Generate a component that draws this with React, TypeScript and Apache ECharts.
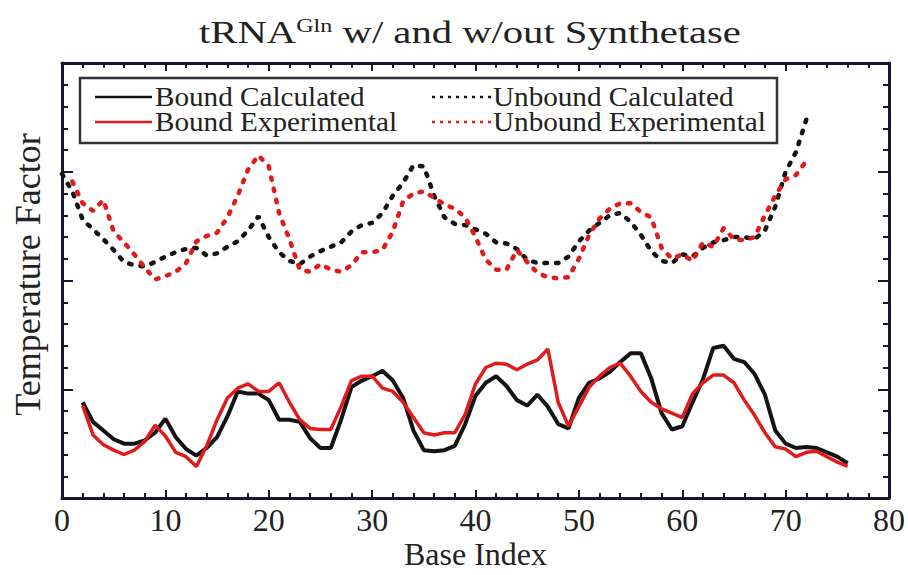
import React, { useEffect, useRef } from "react";
import * as echarts from "echarts";

// Bound series: base index 2..76
const BOUND_START = 2;
const boundCalculated = [
  0.88, 0.70, 0.62, 0.54, 0.50, 0.50, 0.53, 0.60, 0.73, 0.56, 0.45, 0.39, 0.46, 0.56, 0.75,
  0.98, 0.96, 0.96, 0.90, 0.72, 0.72, 0.70, 0.55, 0.46, 0.46, 0.72, 1.02, 1.08, 1.12, 1.17,
  1.08, 0.92, 0.62, 0.44, 0.43, 0.44, 0.48, 0.68, 0.94, 1.06, 1.12, 1.03, 0.90, 0.85, 0.95,
  0.84, 0.68, 0.64, 0.92, 1.06, 1.10, 1.16, 1.25, 1.33, 1.33, 1.10, 0.78, 0.63, 0.66, 0.88,
  1.09, 1.38, 1.40, 1.28, 1.25, 1.14, 0.95, 0.62, 0.50, 0.46, 0.47, 0.46, 0.42, 0.38, 0.32,
];
const boundExperimental = [
  0.85, 0.58, 0.49, 0.44, 0.40, 0.44, 0.52, 0.67, 0.57, 0.42, 0.38, 0.29, 0.48, 0.72, 0.92,
  1.01, 1.05, 0.98, 0.98, 1.06, 0.88, 0.72, 0.64, 0.63, 0.63, 0.84, 1.08, 1.12, 1.12, 1.01,
  0.98, 0.88, 0.74, 0.60, 0.58, 0.60, 0.60, 0.77, 1.05, 1.20, 1.24, 1.23, 1.18, 1.23, 1.27,
  1.37, 0.88, 0.66, 0.84, 1.02, 1.12, 1.20, 1.24, 1.12, 0.98, 0.88, 0.82, 0.78, 0.74, 0.96,
  1.06, 1.13, 1.13, 1.06, 0.90, 0.76, 0.60, 0.47, 0.45, 0.38, 0.42, 0.43, 0.38, 0.33, 0.29,
];

// Unbound series
const UNBOUND_CALC_START = 0;
const unboundCalculated = [
  2.98, 2.82, 2.56, 2.47, 2.38, 2.28, 2.17, 2.14, 2.13, 2.17, 2.22, 2.26, 2.29, 2.30, 2.23,
  2.25, 2.31, 2.36, 2.46, 2.59, 2.40, 2.26, 2.18, 2.15, 2.22, 2.27, 2.31, 2.35, 2.45, 2.51,
  2.53, 2.62, 2.78, 2.90, 3.06, 3.05, 2.78, 2.58, 2.52, 2.51, 2.47, 2.43, 2.35, 2.34, 2.29,
  2.19, 2.16, 2.16, 2.16, 2.22, 2.36, 2.46, 2.53, 2.60, 2.62, 2.54, 2.42, 2.27, 2.18, 2.16,
  2.24, 2.22, 2.30, 2.35, 2.37, 2.40, 2.40, 2.38, 2.46, 2.68, 3.00, 3.18, 3.48,
];
const UNBOUND_EXP_START = 1;
const unboundExperimental = [
  2.91, 2.71, 2.64, 2.74, 2.45, 2.35, 2.24, 2.12, 2.01, 2.04, 2.08, 2.16, 2.36, 2.41,
  2.44, 2.58, 2.78, 3.02, 3.15, 3.05, 2.62, 2.38, 2.10, 2.08, 2.15, 2.10, 2.08, 2.14, 2.26,
  2.26, 2.28, 2.45, 2.73, 2.80, 2.82, 2.76, 2.70, 2.66, 2.58, 2.40, 2.19, 2.10, 2.10, 2.28,
  2.17, 2.07, 2.03, 2.02, 2.03, 2.20, 2.42, 2.57, 2.66, 2.71, 2.71, 2.63, 2.58, 2.30, 2.20,
  2.24, 2.18, 2.35, 2.31, 2.48, 2.38, 2.37, 2.40, 2.60, 2.78, 2.93, 2.97, 3.10,
];

const seriesNames = [
  "Bound Calculated",
  "Bound Experimental",
  "Unbound Calculated",
  "Unbound Experimental",
];
const titleMain = "tRNA";
const titleSup = "Gln";
const titleRest = " w/ and w/out Synthetase";
const xAxisName = "Base Index";
const yAxisName = "Temperature Factor";
const xTickValues = [0, 10, 20, 30, 40, 50, 60, 70, 80];

const BLACK = "#141414";
const RED = "#e11b1b";
const AXIS = "#161633";
const TEXT = "#222";
const SERIF = "'Liberation Serif', 'Times New Roman', serif";

const toPairs = (start: number, arr: number[]) => arr.map((v, i) => [start + i, v]);

export default function App() {
  const ref = useRef<HTMLDivElement>(null);
  useEffect(() => {
    if (!ref.current) return;
    const chart = echarts.init(ref.current, undefined, { renderer: "svg" });

    const tickX = { show: true, inside: true, length: 8, lineStyle: { color: AXIS, width: 2 } };
    const minorX = { show: true, splitNumber: 5, length: 5, lineStyle: { color: AXIS, width: 2 } };
    const tickY = { show: true, inside: true, length: 11, lineStyle: { color: AXIS, width: 2 } };
    const minorY = { show: true, splitNumber: 5, length: 6, lineStyle: { color: AXIS, width: 2 } };
    const axisLine = { show: true, onZero: false, lineStyle: { color: AXIS, width: 3 } };

    const legendX1 = 95;
    const legendX2 = 432;
    const row1 = 97;
    const row2 = 122;
    const legendText = (x: number, y: number, text: string) => ({
      type: "text",
      x,
      y,
      scaleX: 1.08,
      z: 11,
      style: {
        text,
        fontFamily: SERIF,
        fontSize: 27,
        fill: TEXT,
        textAlign: "left",
        textVerticalAlign: "middle",
        verticalAlign: "middle",
      },
    });

    chart.setOption({
      animation: false,
      backgroundColor: "#ffffff",
      grid: { left: 62, top: 63, right: 19, bottom: 77, outerBoundsMode: "none", containLabel: false },
      xAxis: [
        {
          type: "value",
          min: 0,
          max: 80,
          interval: 10,
          position: "bottom",
          name: xAxisName,
          nameLocation: "middle",
          nameGap: 40,
          nameMoveOverlap: false,
          nameTextStyle: { fontFamily: SERIF, fontSize: 32, color: TEXT },
          axisLine,
          splitLine: { show: false },
          axisTick: tickX,
          minorTick: minorX,
          axisLabel: {
            show: true,
            fontFamily: SERIF,
            fontSize: 32,
            color: TEXT,
            margin: 6,
            customValues: xTickValues,
          },
        },
        {
          type: "value",
          min: 0,
          max: 80,
          interval: 10,
          position: "top",
          axisLine,
          splitLine: { show: false },
          axisTick: tickX,
          minorTick: minorX,
          axisLabel: { show: false },
        },
      ],
      yAxis: [
        {
          type: "value",
          min: 0,
          max: 4,
          interval: 1,
          position: "left",
          name: yAxisName,
          nameLocation: "middle",
          nameGap: 16,
          nameMoveOverlap: false,
          nameTextStyle: {
            fontFamily: SERIF,
            fontSize: 36,
            color: TEXT,
            padding: [0, 0, 0, 12],
          },
          axisLine,
          splitLine: { show: false },
          axisTick: tickY,
          minorTick: minorY,
          axisLabel: { show: false },
        },
        {
          type: "value",
          min: 0,
          max: 4,
          interval: 1,
          position: "right",
          axisLine,
          splitLine: { show: false },
          axisTick: tickY,
          minorTick: minorY,
          axisLabel: { show: false },
        },
      ],
      series: [
        {
          name: seriesNames[0],
          type: "line",
          data: toPairs(BOUND_START, boundCalculated),
          showSymbol: false,
          lineStyle: { color: BLACK, width: 4 },
          z: 3,
        },
        {
          name: seriesNames[1],
          type: "line",
          data: toPairs(BOUND_START, boundExperimental),
          showSymbol: false,
          lineStyle: { color: RED, width: 3.5 },
          z: 4,
        },
        {
          name: seriesNames[2],
          type: "line",
          data: toPairs(UNBOUND_CALC_START, unboundCalculated),
          showSymbol: false,
          lineStyle: { color: BLACK, width: 4.5, type: [2.5, 9], cap: "round" },
          z: 3,
        },
        {
          name: seriesNames[3],
          type: "line",
          data: toPairs(UNBOUND_EXP_START, unboundExperimental),
          showSymbol: false,
          lineStyle: { color: RED, width: 4.5, type: [2.5, 9], cap: "round" },
          z: 4,
        },
      ],
      graphic: [
        {
          type: "text",
          x: 470,
          y: 32,
          scaleX: 1.27,
          z: 11,
          style: {
            text: `${titleMain}{sup|${titleSup}}${titleRest}`,
            fontFamily: SERIF,
            fontSize: 32,
            fill: TEXT,
            textAlign: "center",
            verticalAlign: "middle",
            rich: {
              sup: {
                fontFamily: SERIF,
                fontSize: 19,
                fill: TEXT,
                verticalAlign: "top",
                padding: [0, 0, 10, 0],
              },
            },
          },
        },
        {
          type: "rect",
          shape: { x: 80, y: 78, width: 697, height: 65 },
          style: { fill: "#fff", stroke: "#333", lineWidth: 2.5 },
          z: 10,
        },
        {
          type: "line",
          shape: { x1: legendX1, y1: row1, x2: legendX1 + 57, y2: row1 },
          style: { stroke: BLACK, lineWidth: 2.5 },
          z: 11,
        },
        {
          type: "line",
          shape: { x1: legendX1, y1: row2, x2: legendX1 + 57, y2: row2 },
          style: { stroke: RED, lineWidth: 2.5 },
          z: 11,
        },
        {
          type: "line",
          shape: { x1: legendX2, y1: row1, x2: legendX2 + 59, y2: row1 },
          style: { stroke: BLACK, lineWidth: 2.5, lineDash: [3, 5] },
          z: 11,
        },
        {
          type: "line",
          shape: { x1: legendX2, y1: row2, x2: legendX2 + 59, y2: row2 },
          style: { stroke: RED, lineWidth: 2.5, lineDash: [3, 5] },
          z: 11,
        },
        legendText(legendX1 + 60, row1, seriesNames[0]),
        legendText(legendX1 + 60, row2, seriesNames[1]),
        legendText(legendX2 + 61, row1, seriesNames[2]),
        legendText(legendX2 + 61, row2, seriesNames[3]),
      ],
    });
    return () => chart.dispose();
  }, []);

  return (
    <div
      ref={ref}
      style={{ position: "fixed", left: 0, top: 0, width: 908, height: 575, background: "#fff" }}
    />
  );
}
